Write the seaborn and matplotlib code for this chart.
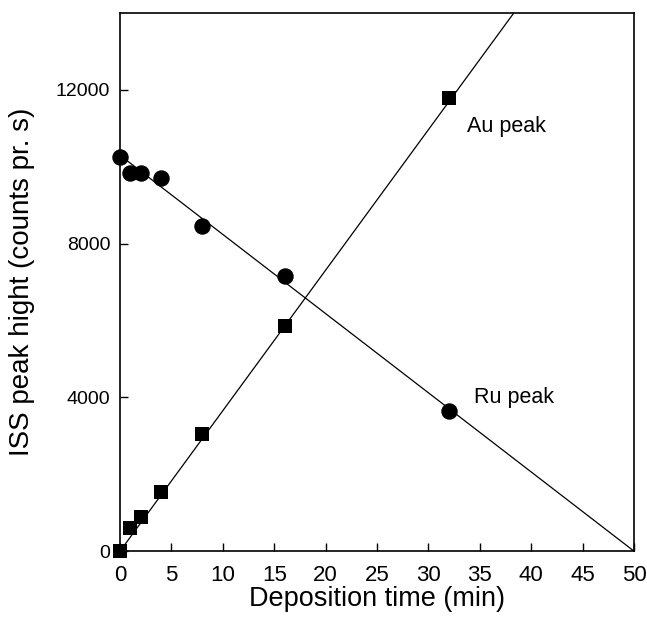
import numpy as np
import pandas as pd
import seaborn as sns
import matplotlib.pyplot as plt

# --- DATA ---
time_min = [0, 1, 2, 4, 8, 16, 32]
ru_peak = [10250, 9850, 9850, 9700, 8450, 7150, 3650]
au_peak = [0, 600, 900, 1550, 3050, 5850, 11800]

# fitted straight lines, end points
ru_fit_x = [0, 50]
ru_fit_y = [10300, 0]
au_fit_x = [0, 38.3]
au_fit_y = [0, 14000]

x_ticks = [0, 5, 10, 15, 20, 25, 30, 35, 40, 45, 50]
y_ticks = [0, 4000, 8000, 12000]

sns.set_theme(style="ticks")
plt.rcParams['font.family'] = ['Liberation Sans', 'DejaVu Sans']

df = pd.DataFrame({'time': time_min, 'Ru': ru_peak, 'Au': au_peak})

fig = plt.figure(figsize=(6.47, 6.20), dpi=100)
ax = fig.add_axes([0.1855, 0.111, 0.7945, 0.868])

# fit lines
sns.lineplot(x=ru_fit_x, y=ru_fit_y, ax=ax, color='black', linewidth=0.9)
sns.lineplot(x=au_fit_x, y=au_fit_y, ax=ax, color='black', linewidth=0.9)

# measured points
sns.scatterplot(data=df, x='time', y='Ru', ax=ax, marker='o', s=140,
                color='black', edgecolor='black', linewidth=0, clip_on=False, zorder=3)
sns.scatterplot(data=df, x='time', y='Au', ax=ax, marker='s', s=110,
                color='black', edgecolor='black', linewidth=0, clip_on=False, zorder=3)

ax.text(37.55, 11050, 'Au peak', fontsize=15.5, ha='center', va='center', color='black')
ax.text(38.3, 4000, 'Ru peak', fontsize=15.5, ha='center', va='center', color='black')

ax.set_xlim(0, 50)
ax.set_ylim(0, 14000)
ax.set_xticks(x_ticks)
ax.set_yticks(y_ticks)
ax.tick_params(axis='x', direction='in', length=6, width=1, labelsize=16, pad=10,
               colors='black')
ax.tick_params(axis='y', direction='in', length=6, width=1, labelsize=14, pad=7,
               colors='black')
for sp in ax.spines.values():
    sp.set_linewidth(1.2)
    sp.set_color('black')

ax.set_xlabel('Deposition time (min)', fontsize=19.5, labelpad=0, color='black')
ax.set_ylabel('ISS peak hight (counts pr. s)', fontsize=20, labelpad=15, color='black')

fig.savefig('out.png', dpi=100)
